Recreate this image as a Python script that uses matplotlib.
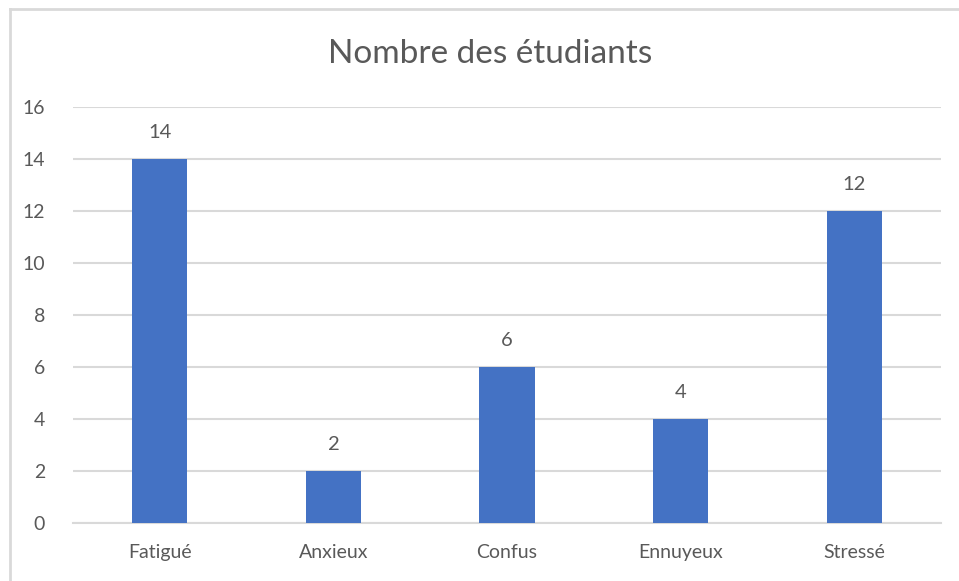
import matplotlib.pyplot as plt
from matplotlib.lines import Line2D
import numpy as np

plt.rcParams['font.family'] = ['Lato', 'DejaVu Sans']

categories = ['Fatigué', 'Anxieux', 'Confus', 'Ennuyeux', 'Stressé']
values = [14, 2, 6, 4, 12]
yticks = [0, 2, 4, 6, 8, 10, 12, 14, 16]

TEXT = '#595959'
GRID = '#d9d9d9'
BAR = '#4472C4'

fig = plt.figure(figsize=(9.59, 5.81), dpi=100)
ax = fig.add_axes([73 / 959, 58 / 581, 868 / 959, 416 / 581])

# chart frame (only top/left edges are visible in the crop)
left, top = 9.5 / 959, 1 - 8.5 / 581
fig.add_artist(Line2D([left, left], [0, top], transform=fig.transFigure,
                      color=GRID, linewidth=2))
fig.add_artist(Line2D([left, 1], [top, top], transform=fig.transFigure,
                      color=GRID, linewidth=2))

x = np.arange(len(categories))
ax.bar(x, values, width=0.317, color=BAR, zorder=3)

for i, v in enumerate(values):
    ax.annotate(str(v), (i, v), xytext=(0, 19), textcoords='offset points',
                ha='center', va='center', fontsize=14.5, color=TEXT)

ax.set_xlim(-0.5, len(categories) - 0.5)
ax.set_ylim(0, 16)
ax.set_yticks(yticks)
ax.set_xticks(x)
ax.set_xticklabels(categories)
ax.tick_params(axis='both', length=0, labelsize=14, labelcolor=TEXT)
ax.tick_params(axis='y', pad=20)
ax.tick_params(axis='x', pad=15)
ax.grid(axis='y', color=GRID, linewidth=1.5, zorder=0)
for s in ['top', 'right', 'left']:
    ax.spines[s].set_visible(False)
ax.spines['bottom'].set_color(GRID)
ax.spines['bottom'].set_linewidth(1.5)

fig.text(490 / 959, 1 - 54 / 581, 'Nombre des étudiants', ha='center', va='center',
         fontsize=24, color=TEXT)

fig.savefig('out.png', dpi=100)
